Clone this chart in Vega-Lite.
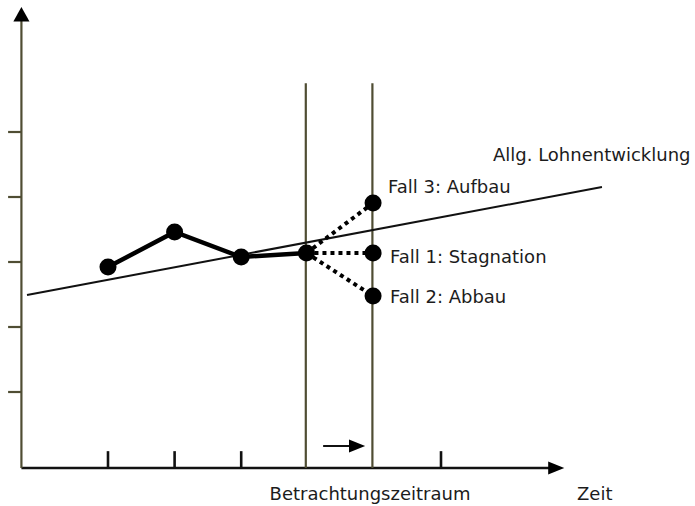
{
  "$schema": "https://vega.github.io/schema/vega-lite/v6.json",
  "width": 695,
  "height": 506,
  "autosize": {"type": "fit", "contains": "padding"},
  "padding": 0,
  "background": "white",
  "config": {"view": {"stroke": null}},
  "datasets": {
    "segments": [
      {"group": "xaxis", "t": -0.3, "v": -0.17, "t2": 7.65, "v2": -0.17},
      {"group": "yaxis", "t": -0.3, "v": -0.17, "t2": -0.3, "v2": 6.72},
      {"group": "ytick", "t": -0.5, "v": 1, "t2": -0.3, "v2": 1},
      {"group": "ytick", "t": -0.5, "v": 2, "t2": -0.3, "v2": 2},
      {"group": "ytick", "t": -0.5, "v": 3, "t2": -0.3, "v2": 3},
      {"group": "ytick", "t": -0.5, "v": 4, "t2": -0.3, "v2": 4},
      {"group": "ytick", "t": -0.5, "v": 5, "t2": -0.3, "v2": 5},
      {"group": "xtick", "t": 1, "v": -0.17, "t2": 1, "v2": 0.09},
      {"group": "xtick", "t": 2, "v": -0.17, "t2": 2, "v2": 0.09},
      {"group": "xtick", "t": 3, "v": -0.17, "t2": 3, "v2": 0.09},
      {"group": "xtick", "t": 6, "v": -0.17, "t2": 6, "v2": 0.09},
      {"group": "period", "t": 3.97, "v": -0.17, "t2": 3.97, "v2": 5.75},
      {"group": "period", "t": 4.97, "v": -0.17, "t2": 4.97, "v2": 5.75},
      {"group": "trend", "t": -0.216, "v": 2.492, "t2": 8.417, "v2": 4.154},
      {"group": "shift", "t": 4.23, "v": 0.169, "t2": 4.7, "v2": 0.169}
    ],
    "heads": [
      {"dir": "right", "t": 7.73, "v": -0.17},
      {"dir": "up", "t": -0.3, "v": 6.81},
      {"dir": "right", "t": 4.74, "v": 0.169}
    ],
    "observed": [
      {"period": 1, "value": 2.923},
      {"period": 2, "value": 3.462},
      {"period": 3, "value": 3.077},
      {"period": 3.98, "value": 3.138}
    ],
    "cases": [
      {"case": "Fall 3", "period": 3.98, "value": 3.138},
      {"case": "Fall 3", "period": 4.98, "value": 3.908},
      {"case": "Fall 1", "period": 3.98, "value": 3.138},
      {"case": "Fall 1", "period": 4.98, "value": 3.138},
      {"case": "Fall 2", "period": 3.98, "value": 3.138},
      {"case": "Fall 2", "period": 4.98, "value": 2.477}
    ],
    "points": [
      {"period": 1, "value": 2.923},
      {"period": 2, "value": 3.462},
      {"period": 3, "value": 3.077},
      {"period": 3.98, "value": 3.138},
      {"period": 4.98, "value": 3.908},
      {"period": 4.98, "value": 3.138},
      {"period": 4.98, "value": 2.477}
    ],
    "labels": [
      {"text": "Allg. Lohnentwicklung", "t": 6.78, "v": 4.554, "anchor": "left"},
      {"text": "Fall 3: Aufbau", "t": 5.204, "v": 4.062, "anchor": "left"},
      {"text": "Fall 1: Stagnation", "t": 5.234, "v": 2.985, "anchor": "left"},
      {"text": "Fall 2: Abbau", "t": 5.234, "v": 2.369, "anchor": "left"},
      {"text": "Zeit", "t": 8.042, "v": -0.662, "anchor": "left"},
      {"text": "Betrachtungszeitraum", "t": 4.934, "v": -0.662, "anchor": "center"}
    ]
  },
  "layer": [
    {
      "data": {"name": "segments"},
      "transform": [{"filter": "datum.group === 'xaxis' || datum.group === 'xtick'"}],
      "mark": {"type": "rule", "color": "#111111", "strokeWidth": 2.6},
      "encoding": {
        "x": {"field": "t", "type": "quantitative", "scale": {"domain": [-0.6216, 9.8138], "nice": false, "zero": false}, "axis": null},
        "y": {"field": "v", "type": "quantitative", "scale": {"domain": [-0.7538, 7.0308], "nice": false, "zero": false}, "axis": null},
        "x2": {"field": "t2"},
        "y2": {"field": "v2"}
      }
    },
    {
      "data": {"name": "segments"},
      "transform": [{"filter": "datum.group === 'yaxis' || datum.group === 'ytick' || datum.group === 'period'"}],
      "mark": {"type": "rule", "color": "#4f4d33", "strokeWidth": 2.2},
      "encoding": {
        "x": {"field": "t", "type": "quantitative", "scale": {"domain": [-0.6216, 9.8138], "nice": false, "zero": false}, "axis": null},
        "y": {"field": "v", "type": "quantitative", "scale": {"domain": [-0.7538, 7.0308], "nice": false, "zero": false}, "axis": null},
        "x2": {"field": "t2"},
        "y2": {"field": "v2"}
      }
    },
    {
      "data": {"name": "segments"},
      "transform": [{"filter": "datum.group === 'trend' || datum.group === 'shift'"}],
      "mark": {"type": "rule", "color": "#111111", "strokeWidth": 2},
      "encoding": {
        "x": {"field": "t", "type": "quantitative", "scale": {"domain": [-0.6216, 9.8138], "nice": false, "zero": false}, "axis": null},
        "y": {"field": "v", "type": "quantitative", "scale": {"domain": [-0.7538, 7.0308], "nice": false, "zero": false}, "axis": null},
        "x2": {"field": "t2"},
        "y2": {"field": "v2"}
      }
    },
    {
      "data": {"name": "heads"},
      "transform": [{"filter": "datum.dir === 'right'"}],
      "mark": {"type": "point", "shape": "M-1,-0.8L1,0L-1,0.8Z", "filled": true, "color": "#000000", "size": 260, "opacity": 1},
      "encoding": {
        "x": {"field": "t", "type": "quantitative", "scale": {"domain": [-0.6216, 9.8138], "nice": false, "zero": false}, "axis": null},
        "y": {"field": "v", "type": "quantitative", "scale": {"domain": [-0.7538, 7.0308], "nice": false, "zero": false}, "axis": null}
      }
    },
    {
      "data": {"name": "heads"},
      "transform": [{"filter": "datum.dir === 'up'"}],
      "mark": {"type": "point", "shape": "M-1,0.9L0,-0.9L1,0.9Z", "filled": true, "color": "#000000", "size": 260, "opacity": 1},
      "encoding": {
        "x": {"field": "t", "type": "quantitative", "scale": {"domain": [-0.6216, 9.8138], "nice": false, "zero": false}, "axis": null},
        "y": {"field": "v", "type": "quantitative", "scale": {"domain": [-0.7538, 7.0308], "nice": false, "zero": false}, "axis": null}
      }
    },
    {
      "data": {"name": "cases"},
      "mark": {"type": "line", "color": "#000000", "strokeWidth": 4, "strokeDash": [4, 4]},
      "encoding": {
        "x": {"field": "period", "type": "quantitative", "scale": {"domain": [-0.6216, 9.8138], "nice": false, "zero": false}, "axis": null},
        "y": {"field": "value", "type": "quantitative", "scale": {"domain": [-0.7538, 7.0308], "nice": false, "zero": false}, "axis": null},
        "detail": {"field": "case"},
        "order": {"field": "period"}
      }
    },
    {
      "data": {"name": "observed"},
      "mark": {"type": "line", "color": "#000000", "strokeWidth": 4.5},
      "encoding": {
        "x": {"field": "period", "type": "quantitative", "scale": {"domain": [-0.6216, 9.8138], "nice": false, "zero": false}, "axis": null},
        "y": {"field": "value", "type": "quantitative", "scale": {"domain": [-0.7538, 7.0308], "nice": false, "zero": false}, "axis": null},
        "order": {"field": "period"}
      }
    },
    {
      "data": {"name": "points"},
      "mark": {"type": "circle", "color": "#000000", "size": 290, "opacity": 1},
      "encoding": {
        "x": {"field": "period", "type": "quantitative", "scale": {"domain": [-0.6216, 9.8138], "nice": false, "zero": false}, "axis": null},
        "y": {"field": "value", "type": "quantitative", "scale": {"domain": [-0.7538, 7.0308], "nice": false, "zero": false}, "axis": null}
      }
    },
    {
      "data": {"name": "labels"},
      "transform": [{"filter": "datum.anchor === 'left'"}],
      "mark": {"type": "text", "align": "left", "baseline": "alphabetic", "font": "DejaVu Sans", "fontSize": 18, "color": "#1c1c1c"},
      "encoding": {
        "x": {"field": "t", "type": "quantitative", "scale": {"domain": [-0.6216, 9.8138], "nice": false, "zero": false}, "axis": null},
        "y": {"field": "v", "type": "quantitative", "scale": {"domain": [-0.7538, 7.0308], "nice": false, "zero": false}, "axis": null},
        "text": {"field": "text"}
      }
    },
    {
      "data": {"name": "labels"},
      "transform": [{"filter": "datum.anchor === 'center'"}],
      "mark": {"type": "text", "align": "center", "baseline": "alphabetic", "font": "DejaVu Sans", "fontSize": 18, "color": "#1c1c1c"},
      "encoding": {
        "x": {"field": "t", "type": "quantitative", "scale": {"domain": [-0.6216, 9.8138], "nice": false, "zero": false}, "axis": null},
        "y": {"field": "v", "type": "quantitative", "scale": {"domain": [-0.7538, 7.0308], "nice": false, "zero": false}, "axis": null},
        "text": {"field": "text"}
      }
    }
  ]
}
